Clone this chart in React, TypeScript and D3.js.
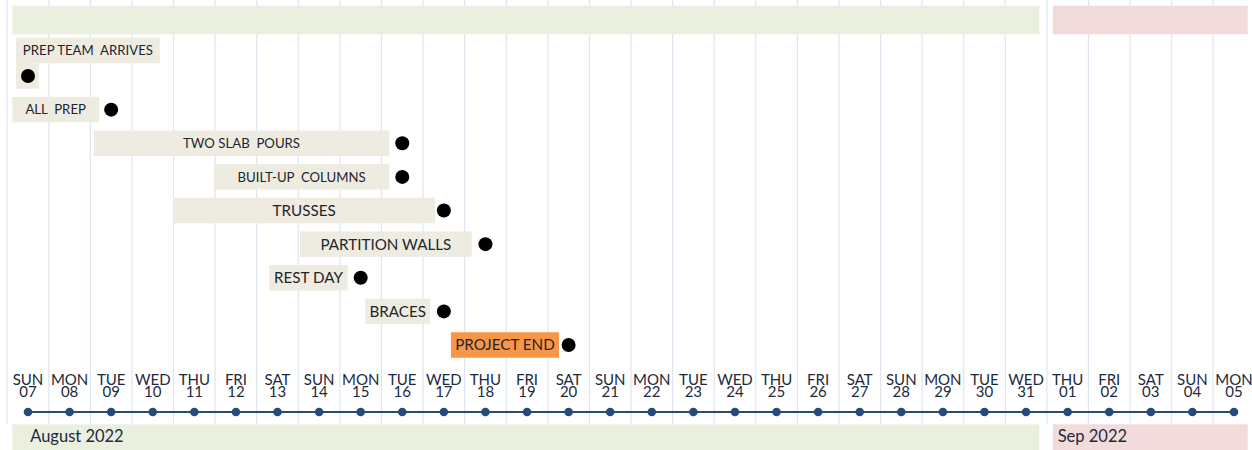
import React from 'react';
import * as d3 from 'd3';

// day axis: Aug 07 2022 .. Sep 05 2022
const weekdays = ['SUN', 'MON', 'TUE', 'WED', 'THU', 'FRI', 'SAT', 'SUN', 'MON', 'TUE', 'WED', 'THU', 'FRI', 'SAT', 'SUN', 'MON', 'TUE', 'WED', 'THU', 'FRI', 'SAT', 'SUN', 'MON', 'TUE', 'WED', 'THU', 'FRI', 'SAT', 'SUN', 'MON'];
const dayNums = ['07', '08', '09', '10', '11', '12', '13', '14', '15', '16', '17', '18', '19', '20', '21', '22', '23', '24', '25', '26', '27', '28', '29', '30', '31', '01', '02', '03', '04', '05'];

// month bands, in day offsets from Aug 07
const monthNames = ['August 2022', 'Sep 2022'];
const monthFrom = [-0.38, 24.64];
const monthTo = [24.32, 29.33];

// tasks: due day (dot) and the label bar span, in day offsets from Aug 07
const taskNames = ['PREP TEAM  ARRIVES', 'ALL  PREP', 'TWO SLAB  POURS', 'BUILT-UP  COLUMNS', 'TRUSSES', 'PARTITION WALLS', 'REST DAY', 'BRACES', 'PROJECT END'];
const taskDue = [0, 2, 9, 9, 10, 11, 8, 10, 13];
const barStart = [-0.29, -0.38, 1.58, 4.47, 3.49, 6.54, 5.8, 8.11, 10.17];
const barEnd = [0.26, 1.71, 8.69, 8.69, 9.79, 10.67, 7.69, 9.67, 12.77];
// label that does not fit in its bar gets its own box above (end offset), else null
const calloutEnd = [3.17, null, null, null, null, null, null, null, null];

const W = 1252;
const H = 450;
const FONT = 'Lato, "Open Sans", sans-serif';
const bigLabels = new Set(['TRUSSES', 'PARTITION WALLS', 'REST DAY', 'BRACES', 'PROJECT END']);
const monthFill = ['#ebefdf', '#f2dcdb'];

export default function App() {
  const x = d3.scaleLinear().domain([0, dayNums.length - 1]).range([28, 1234]);
  const y = d3.scalePoint<string>().domain(taskNames).range([76, 345]);
  const boxH = 25.5;
  const axisY = 412;
  const gridLines = d3.range(-0.5, dayNums.length + 0.5, 1);

  return (
    <div style={{ position: 'fixed', left: 0, top: 0 }}>
      <svg width={W} height={H} style={{ display: 'block', background: '#fff', fontFamily: FONT }}>
        {/* grid */}
        <g stroke="#dce6f2" strokeWidth={1.2}>
          {gridLines.map((d) => (
            <line key={d} x1={x(d)} x2={x(d)} y1={0} y2={424} />
          ))}
        </g>

        {/* top month bands */}
        {monthNames.map((m, i) => (
          <rect key={m} x={x(monthFrom[i])} width={x(monthTo[i]) - x(monthFrom[i])} y={5.7} height={28.6} fill={monthFill[i]} />
        ))}

        {/* task bars, labels, dots */}
        {taskNames.map((name, i) => {
          const cy = y(name)!;
          const last = i === taskNames.length - 1;
          const fill = last ? '#f79646' : '#eeece1';
          const fs = bigLabels.has(name) ? 15.2 : 13.2;
          const x0 = x(barStart[i]);
          const x1 = x(barEnd[i]);
          const ce = calloutEnd[i];
          return (
            <g key={name}>
              <rect x={x0} width={x1 - x0} y={cy - boxH / 2} height={boxH} fill={fill} />
              {ce !== null ? (
                <g>
                  <rect x={x0} width={x(ce) - x0} y={cy - boxH / 2 - boxH} height={boxH} fill={fill} />
                  <text x={(x0 + x(ce)) / 2} y={cy - boxH} dy="0.36em" textAnchor="middle" fontSize={fs} fill="#1e252e" style={{ whiteSpace: 'pre' }}>
                    {name}
                  </text>
                </g>
              ) : (
                <text x={(x0 + x1) / 2} y={cy} dy="0.36em" textAnchor="middle" fontSize={fs} fill="#1e252e" style={{ whiteSpace: 'pre' }}>
                  {name}
                </text>
              )}
              <circle cx={x(taskDue[i])} cy={cy} r={7} fill="#000" />
            </g>
          );
        })}

        {/* day tick labels */}
        {dayNums.map((d, i) => (
          <text key={i} x={x(i)} textAnchor="middle" fontSize={15} fill="#1c2a3e">
            <tspan x={x(i)} y={384.5}>{weekdays[i]}</tspan>
            <tspan x={x(i)} y={396.5}>{d}</tspan>
          </text>
        ))}

        {/* axis line with day dots */}
        <line x1={x(0)} x2={x(dayNums.length - 1)} y1={axisY} y2={axisY} stroke="#264a7c" strokeWidth={2} />
        {dayNums.map((d, i) => (
          <circle key={i} cx={x(i)} cy={axisY} r={4.3} fill="#264a7c" />
        ))}

        {/* bottom month bands */}
        {monthNames.map((m, i) => (
          <g key={m}>
            <rect x={x(monthFrom[i])} width={x(monthTo[i]) - x(monthFrom[i])} y={424.3} height={H - 424.3} fill={monthFill[i]} />
            <text x={x(monthFrom[i]) + (i === 0 ? 18 : 5)} y={442} fontSize={16.5} fill="#1c2a3e">
              {m}
            </text>
          </g>
        ))}
      </svg>
    </div>
  );
}
